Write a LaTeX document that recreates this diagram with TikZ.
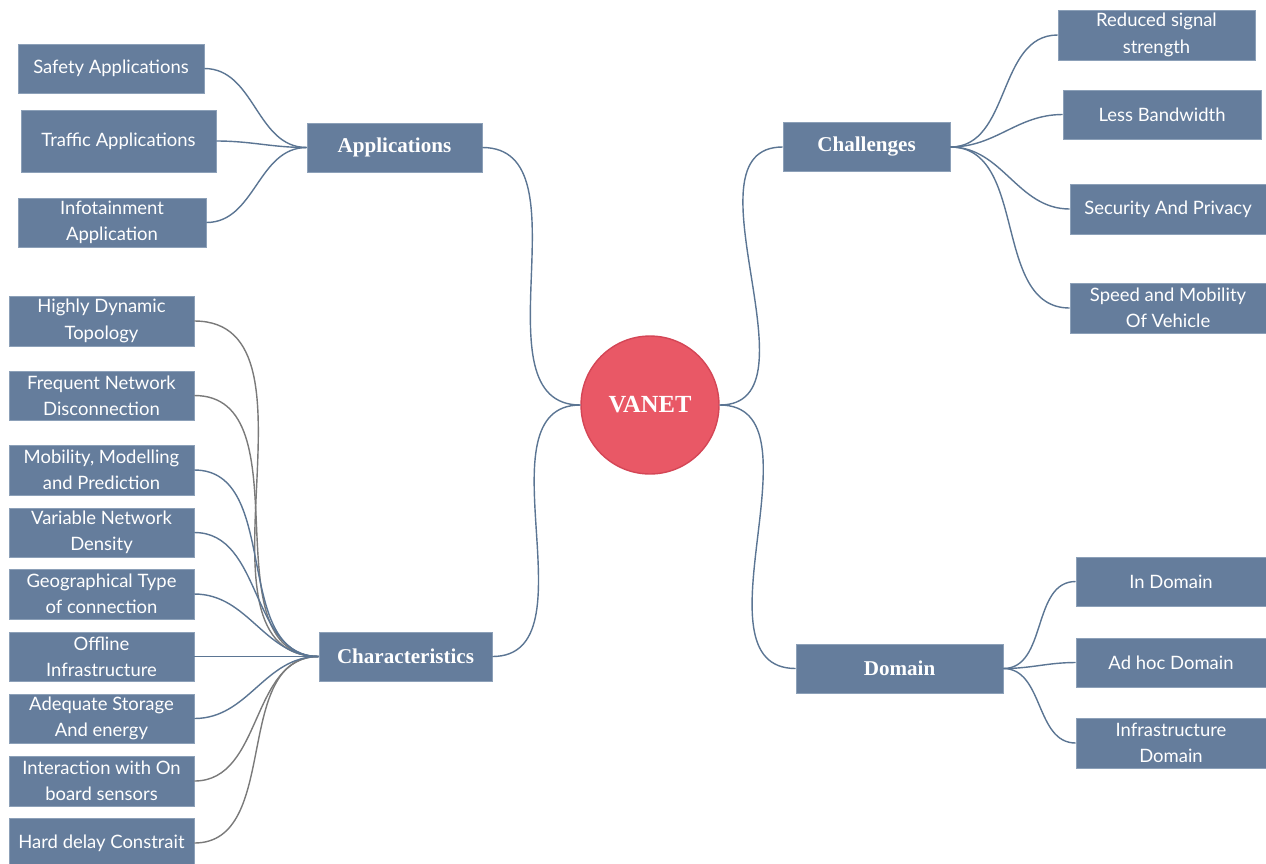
\documentclass[tikz,border=0pt]{standalone}
\usepackage{fontspec}
\setmainfont{Lato}
\newfontfamily\topicfont{Liberation Serif}
\definecolor{boxblue}{HTML}{657D9C}
\definecolor{boxedge}{HTML}{8CA0B8}
\definecolor{linkblue}{HTML}{5B7593}
\definecolor{linkgrey}{HTML}{7A7A7A}
\definecolor{vanetred}{HTML}{E95866}
\definecolor{vanetedge}{HTML}{D44656}
\tikzset{
  leaf/.style={rectangle, fill=boxblue, draw=boxedge, line width=0.4pt, text=white,
    inner sep=0pt, align=center, font=\fontsize{10.5}{15}\selectfont},
  topic/.style={rectangle, fill=boxblue, draw=boxedge, line width=0.4pt, text=white,
    inner sep=0pt, minimum height=0.98cm, font=\topicfont\bfseries\fontsize{12}{14}\selectfont},
  link/.style={draw=linkblue, line width=0.8pt},
  greylink/.style={draw=linkgrey, line width=0.8pt}
}
\begin{document}
\begin{tikzpicture}[x=0.02cm, y=-0.02cm]
\useasboundingbox (0,0) rectangle (1266,863);

% centre
\node[circle, fill=vanetred, draw=vanetedge, line width=0.8pt, minimum size=2.76cm, text=white,
  font=\topicfont\bfseries\fontsize{14}{16}\selectfont] (vanet) at (650,405) {VANET};

% main topics
\node[topic, minimum width=3.5cm] (applications) at (394.5,147.5) {Applications};
\node[topic, minimum width=3.46cm] (characteristics) at (405.5,656.5) {Characteristics};
\node[topic, minimum width=3.34cm] (challenges) at (866.5,147) {Challenges};
\node[topic, minimum width=4.14cm] (domain) at (899.5,668.5) {Domain};

% applications
\node[leaf, minimum width=3.72cm, minimum height=0.98cm] (safety) at (111,68.5) {Safety Applications};
\node[leaf, minimum width=3.9cm, minimum height=1.24cm] (traffic) at (118.5,141) {Traffic Applications};
\node[leaf, minimum width=3.76cm, minimum height=0.98cm] (infotainment) at (112,222.5) {Infotainment\\Application};

% characteristics
\node[leaf, minimum width=3.7cm, minimum height=1cm] (dynamic) at (101.5,321) {Highly Dynamic\\Topology};
\node[leaf, minimum width=3.7cm, minimum height=0.98cm] (disconnect) at (101.5,395.5) {Frequent Network\\Disconnection};
\node[leaf, minimum width=3.7cm, minimum height=1cm] (mobility) at (101.5,470) {Mobility, Modelling\\and Prediction};
\node[leaf, minimum width=3.7cm, minimum height=0.98cm] (density) at (101.5,532.5) {Variable Network\\Density};
\node[leaf, minimum width=3.7cm, minimum height=1cm] (geo) at (101.5,594) {Geographical Type\\of connection};
\node[leaf, minimum width=3.7cm, minimum height=0.98cm] (offline) at (101.5,656.5) {Offline\\Infrastructure};
\node[leaf, minimum width=3.7cm, minimum height=0.98cm] (storage) at (101.5,718.5) {Adequate Storage\\And energy};
\node[leaf, minimum width=3.7cm, minimum height=1cm] (sensors) at (101.5,781) {Interaction with On\\board sensors};
\node[leaf, minimum width=3.7cm, minimum height=1cm] (delay) at (101.5,843) {Hard delay Constrait};

% challenges
\node[leaf, minimum width=3.94cm, minimum height=1cm] (signal) at (1156.5,35) {Reduced signal\\strength};
\node[leaf, minimum width=3.96cm, minimum height=0.98cm] (bandwidth) at (1162,114.5) {Less Bandwidth};
\node[leaf, minimum width=3.92cm, minimum height=1cm] (privacy) at (1168,209) {Security And Privacy};
\node[leaf, minimum width=3.92cm, minimum height=1cm] (speed) at (1168,308) {Speed and Mobility\\Of Vehicle};

% domain
\node[leaf, minimum width=3.8cm, minimum height=0.98cm] (indomain) at (1171,581.5) {In Domain};
\node[leaf, minimum width=3.8cm, minimum height=0.98cm] (adhoc) at (1171,662.5) {Ad hoc Domain};
\node[leaf, minimum width=3.8cm, minimum height=1cm] (infradomain) at (1171,743) {Infrastructure\\Domain};

% links to the centre
\draw[link] (applications.east) to[out=0, in=180] (vanet.west);
\draw[link] (characteristics.east) to[out=0, in=180] (vanet.west);
\draw[link] (vanet.east) to[out=0, in=180] (challenges.west);
\draw[link] (vanet.east) to[out=0, in=180] (domain.west);

% links to the leaves
\foreach \leafname in {safety, traffic, infotainment}
  \draw[link] (\leafname.east) to[out=0, in=180] (applications.west);
\foreach \leafname in {dynamic, disconnect, sensors, delay}
  \draw[greylink] (\leafname.east) to[out=0, in=180] (characteristics.west);
\foreach \leafname in {mobility, density, geo, offline, storage}
  \draw[link] (\leafname.east) to[out=0, in=180] (characteristics.west);
\foreach \leafname in {signal, bandwidth, privacy, speed}
  \draw[link] (challenges.east) to[out=0, in=180] (\leafname.west);
\foreach \leafname in {indomain, adhoc, infradomain}
  \draw[link] (domain.east) to[out=0, in=180] (\leafname.west);
\end{tikzpicture}
\end{document}
